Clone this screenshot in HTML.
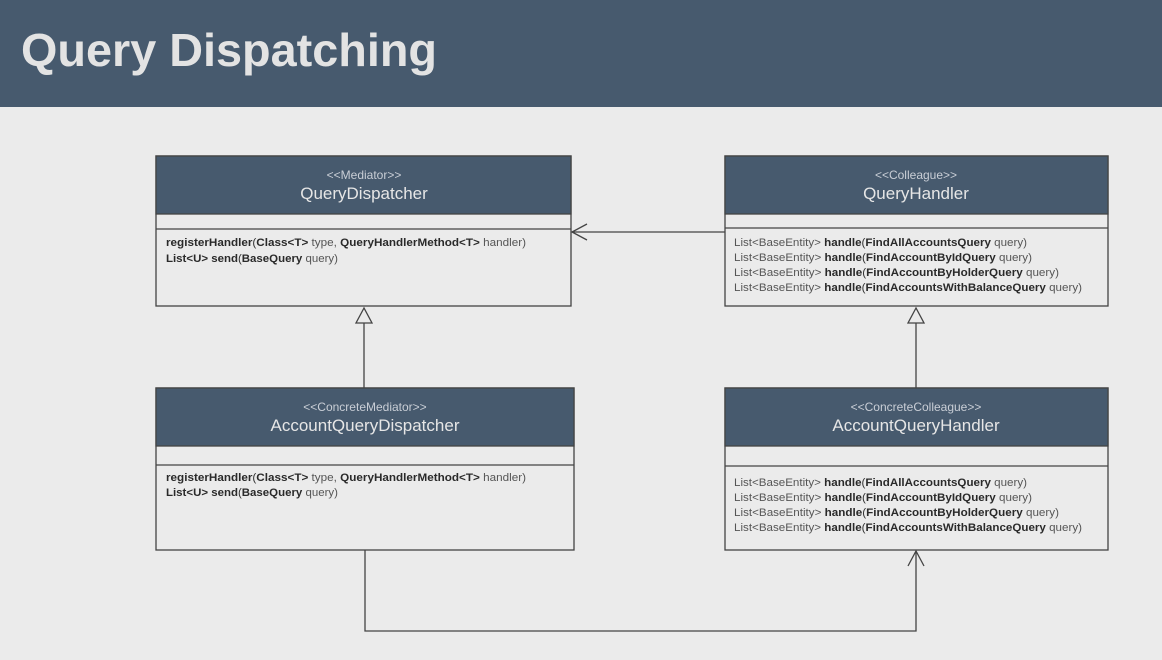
<!DOCTYPE html>
<html><head><meta charset="utf-8"><style>
html,body{margin:0;padding:0;background:#ebebeb;}
svg{display:block;font-family:"Liberation Sans",sans-serif;}
.st{fill:#c9ced6;font-size:12px;}
.nm{fill:#e6e6e6;font-size:17px;}
.m{font-size:11px;fill:#333;}
.b{font-weight:bold;fill:#2a2a2a;}
.l{fill:#555;}
</style></head><body>
<svg width="1162" height="660" viewBox="0 0 1162 660" xmlns="http://www.w3.org/2000/svg">
<rect x="0" y="0" width="1162" height="660" fill="#ebebeb"/>
<rect x="0" y="0" width="1162" height="107" fill="#475a6e"/>
<text x="21" y="66" font-size="46" font-weight="bold" fill="#e3e3e3" textLength="416" lengthAdjust="spacingAndGlyphs">Query Dispatching</text>

<g stroke="#444" stroke-width="1.3" fill="none">
<!-- box1 -->
<rect x="156" y="156" width="415" height="150" fill="#ebebeb"/>
<rect x="156" y="156" width="415" height="58" fill="#475a6e"/>
<line x1="156" y1="229" x2="571" y2="229"/>
<!-- box2 -->
<rect x="725" y="156" width="383" height="150" fill="#ebebeb"/>
<rect x="725" y="156" width="383" height="58" fill="#475a6e"/>
<line x1="725" y1="228" x2="1108" y2="228"/>
<!-- box3 -->
<rect x="156" y="388" width="418" height="162" fill="#ebebeb"/>
<rect x="156" y="388" width="418" height="58" fill="#475a6e"/>
<line x1="156" y1="465" x2="574" y2="465"/>
<!-- box4 -->
<rect x="725" y="388" width="383" height="162" fill="#ebebeb"/>
<rect x="725" y="388" width="383" height="58" fill="#475a6e"/>
<line x1="725" y1="466" x2="1108" y2="466"/>
<!-- connectors -->
<line x1="725" y1="232" x2="572" y2="232"/>
<polyline points="587,224 572,232 587,240"/>
<line x1="364" y1="323" x2="364" y2="388"/>
<polygon points="364,308 356,323 372,323" fill="#ebebeb"/>
<line x1="916" y1="323" x2="916" y2="388"/>
<polygon points="916,308 908,323 924,323" fill="#ebebeb"/>
<polyline points="365,550 365,631 916,631 916,551"/>
<polyline points="908,566 916,551 924,566"/>
</g>

<text x="364" y="179" text-anchor="middle" class="st">&lt;&lt;Mediator&gt;&gt;</text>
<text x="364" y="199" text-anchor="middle" class="nm">QueryDispatcher</text>
<text x="916" y="179" text-anchor="middle" class="st">&lt;&lt;Colleague&gt;&gt;</text>
<text x="916" y="199" text-anchor="middle" class="nm">QueryHandler</text>
<text x="365" y="411" text-anchor="middle" class="st">&lt;&lt;ConcreteMediator&gt;&gt;</text>
<text x="365" y="431" text-anchor="middle" class="nm">AccountQueryDispatcher</text>
<text x="916" y="411" text-anchor="middle" class="st">&lt;&lt;ConcreteColleague&gt;&gt;</text>
<text x="916" y="431" text-anchor="middle" class="nm">AccountQueryHandler</text>

<text x="166" y="246" class="m" textLength="360" lengthAdjust="spacingAndGlyphs"><tspan class="b">registerHandler</tspan>(<tspan class="b">Class&lt;T&gt;</tspan> <tspan class="l">type,</tspan> <tspan class="b">QueryHandlerMethod&lt;T&gt;</tspan> <tspan class="l">handler)</tspan></text>
<text x="166" y="262" class="m" textLength="172" lengthAdjust="spacingAndGlyphs"><tspan class="b">List&lt;U&gt; send</tspan>(<tspan class="b">BaseQuery</tspan> <tspan class="l">query)</tspan></text>

<text x="166" y="481" class="m" textLength="360" lengthAdjust="spacingAndGlyphs"><tspan class="b">registerHandler</tspan>(<tspan class="b">Class&lt;T&gt;</tspan> <tspan class="l">type,</tspan> <tspan class="b">QueryHandlerMethod&lt;T&gt;</tspan> <tspan class="l">handler)</tspan></text>
<text x="166" y="496" class="m" textLength="172" lengthAdjust="spacingAndGlyphs"><tspan class="b">List&lt;U&gt; send</tspan>(<tspan class="b">BaseQuery</tspan> <tspan class="l">query)</tspan></text>

<g class="m">
<text x="734" y="246" textLength="293" lengthAdjust="spacingAndGlyphs"><tspan class="l">List&lt;BaseEntity&gt;</tspan> <tspan class="b">handle</tspan>(<tspan class="b">FindAllAccountsQuery</tspan> <tspan class="l">query)</tspan></text>
<text x="734" y="261" textLength="298" lengthAdjust="spacingAndGlyphs"><tspan class="l">List&lt;BaseEntity&gt;</tspan> <tspan class="b">handle</tspan>(<tspan class="b">FindAccountByIdQuery</tspan> <tspan class="l">query)</tspan></text>
<text x="734" y="276" textLength="325" lengthAdjust="spacingAndGlyphs"><tspan class="l">List&lt;BaseEntity&gt;</tspan> <tspan class="b">handle</tspan>(<tspan class="b">FindAccountByHolderQuery</tspan> <tspan class="l">query)</tspan></text>
<text x="734" y="291" textLength="348" lengthAdjust="spacingAndGlyphs"><tspan class="l">List&lt;BaseEntity&gt;</tspan> <tspan class="b">handle</tspan>(<tspan class="b">FindAccountsWithBalanceQuery</tspan> <tspan class="l">query)</tspan></text>

<text x="734" y="486" textLength="293" lengthAdjust="spacingAndGlyphs"><tspan class="l">List&lt;BaseEntity&gt;</tspan> <tspan class="b">handle</tspan>(<tspan class="b">FindAllAccountsQuery</tspan> <tspan class="l">query)</tspan></text>
<text x="734" y="501" textLength="298" lengthAdjust="spacingAndGlyphs"><tspan class="l">List&lt;BaseEntity&gt;</tspan> <tspan class="b">handle</tspan>(<tspan class="b">FindAccountByIdQuery</tspan> <tspan class="l">query)</tspan></text>
<text x="734" y="516" textLength="325" lengthAdjust="spacingAndGlyphs"><tspan class="l">List&lt;BaseEntity&gt;</tspan> <tspan class="b">handle</tspan>(<tspan class="b">FindAccountByHolderQuery</tspan> <tspan class="l">query)</tspan></text>
<text x="734" y="531" textLength="348" lengthAdjust="spacingAndGlyphs"><tspan class="l">List&lt;BaseEntity&gt;</tspan> <tspan class="b">handle</tspan>(<tspan class="b">FindAccountsWithBalanceQuery</tspan> <tspan class="l">query)</tspan></text>
</g>
</svg>
</body></html>
